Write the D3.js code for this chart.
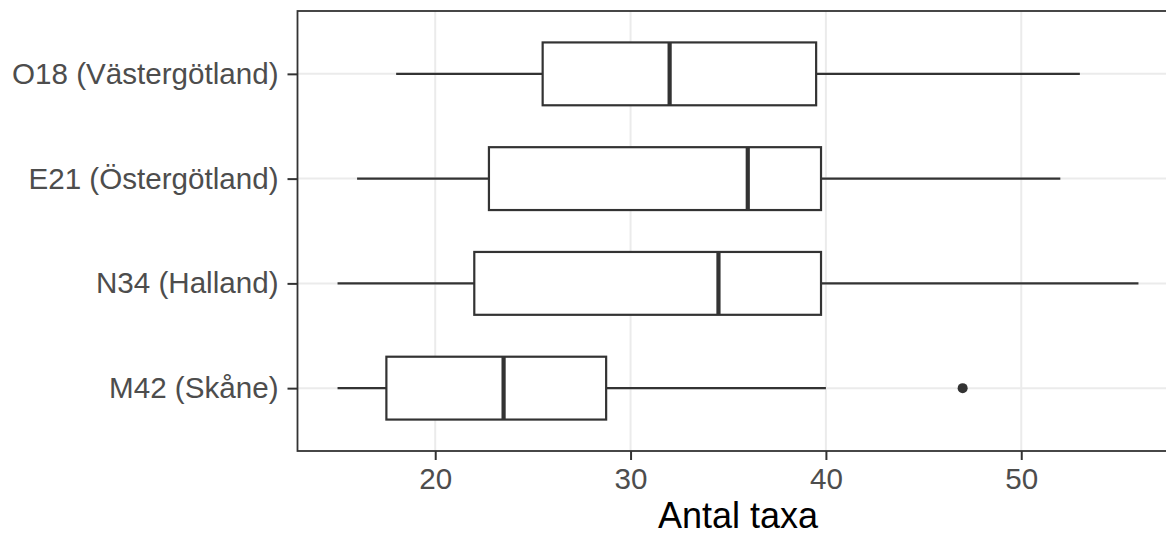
<!DOCTYPE html>
<html lang="sv">
<head>
  <meta charset="utf-8">
  <title>Antal taxa per lokal</title>
  <script src="https://d3js.org/d3.v7.min.js"></script>
  <style>
    body { margin: 0; background: #fff; }
    svg { display: block; font-family: "Liberation Sans", Arial, sans-serif; }
    .axis .domain { display: none; }
    .axis text { fill: #4d4d4d; font-size: 29.6px; }
    .axis line { stroke: #333; stroke-width: 2px; }
    .grid line { stroke: #ebebeb; stroke-width: 2px; }
  </style>
</head>
<body>
  <div id="chart"></div>
  <script>
    // data (Antal taxa per site)
    var sites = ["O18 (Västergötland)", "E21 (Östergötland)", "N34 (Halland)", "M42 (Skåne)"];
    var whiskerLow = [18, 16, 15, 15];
    var q1 = [25.5, 22.75, 22, 17.5];
    var median = [32, 36, 34.5, 23.5];
    var q3 = [39.5, 39.75, 39.75, 28.75];
    var whiskerHigh = [53, 52, 56, 40];
    var outliers = [[], [], [], [47]];
    var xTicks = [20, 30, 40, 50];

    var width = 1166, height = 536;
    var panel = {left: 297.5, top: 11, right: 1178.5, bottom: 451};

    var rows = sites.map(function(s, i) {
      return {site: s, lo: whiskerLow[i], q1: q1[i], med: median[i], q3: q3[i], hi: whiskerHigh[i], out: outliers[i]};
    });

    var x = d3.scaleLinear()
      .domain([12.95, 58.05])
      .range([panel.left, panel.right]);

    var y = d3.scalePoint()
      .domain(sites)
      .range([panel.top, panel.bottom])
      .padding(0.6);

    var boxH = y.step() * 0.6;

    var svg = d3.select("#chart").append("svg")
      .attr("width", width)
      .attr("height", height);

    // grid
    var grid = svg.append("g").attr("class", "grid");
    grid.selectAll("line.v")
      .data(xTicks)
      .enter().append("line")
        .attr("class", "v")
        .attr("x1", x).attr("x2", x)
        .attr("y1", panel.top).attr("y2", panel.bottom);
    grid.selectAll("line.h")
      .data(sites)
      .enter().append("line")
        .attr("class", "h")
        .attr("x1", panel.left).attr("x2", panel.right)
        .attr("y1", y).attr("y2", y);

    // boxes
    var box = svg.append("g")
      .selectAll("g")
      .data(rows)
      .enter().append("g")
        .attr("stroke", "#333")
        .attr("fill", "none");

    box.append("line")
      .attr("x1", function(d) { return x(d.lo); })
      .attr("x2", function(d) { return x(d.q1); })
      .attr("y1", function(d) { return y(d.site); })
      .attr("y2", function(d) { return y(d.site); })
      .attr("stroke-width", 2.2);

    box.append("line")
      .attr("x1", function(d) { return x(d.q3); })
      .attr("x2", function(d) { return x(d.hi); })
      .attr("y1", function(d) { return y(d.site); })
      .attr("y2", function(d) { return y(d.site); })
      .attr("stroke-width", 2.2);

    box.append("rect")
      .attr("x", function(d) { return x(d.q1); })
      .attr("width", function(d) { return x(d.q3) - x(d.q1); })
      .attr("y", function(d) { return y(d.site) - boxH / 2; })
      .attr("height", boxH)
      .attr("fill", "#fff")
      .attr("stroke-width", 2.2);

    box.append("line")
      .attr("x1", function(d) { return x(d.med); })
      .attr("x2", function(d) { return x(d.med); })
      .attr("y1", function(d) { return y(d.site) - boxH / 2; })
      .attr("y2", function(d) { return y(d.site) + boxH / 2; })
      .attr("stroke-width", 4.2);

    box.selectAll("circle")
      .data(function(d) { return d.out.map(function(v) { return {site: d.site, v: v}; }); })
      .enter().append("circle")
        .attr("cx", function(d) { return x(d.v); })
        .attr("cy", function(d) { return y(d.site); })
        .attr("r", 5)
        .attr("fill", "#333")
        .attr("stroke", "none");

    // panel border
    svg.append("rect")
      .attr("x", panel.left)
      .attr("y", panel.top)
      .attr("width", panel.right - panel.left)
      .attr("height", panel.bottom - panel.top)
      .attr("fill", "none")
      .attr("stroke", "#333")
      .attr("stroke-width", 1.8);

    // axes
    svg.append("g")
      .attr("class", "axis")
      .attr("transform", "translate(0," + panel.bottom + ")")
      .call(d3.axisBottom(x).tickValues(xTicks).tickSize(9).tickPadding(8).tickSizeOuter(0))
      .selectAll("text").attr("dy", "0.71em");

    svg.append("g")
      .attr("class", "axis")
      .attr("transform", "translate(" + panel.left + ",0)")
      .call(d3.axisLeft(y).tickSize(10).tickPadding(9).tickSizeOuter(0));

    svg.append("text")
      .attr("x", (panel.left + panel.right) / 2)
      .attr("y", 528)
      .attr("text-anchor", "middle")
      .attr("font-size", 36)
      .attr("fill", "#000")
      .text("Antal taxa");
  </script>
</body>
</html>
